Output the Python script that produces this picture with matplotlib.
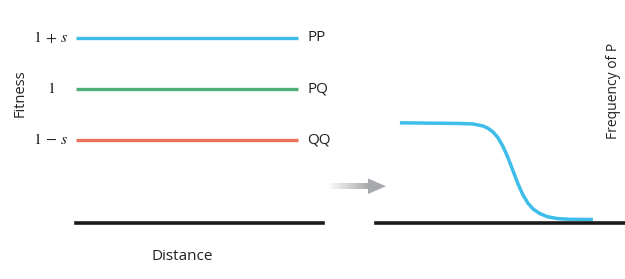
import numpy as np
import matplotlib
matplotlib.use("Agg")
import matplotlib.pyplot as plt
from matplotlib.patches import Polygon

plt.rcParams["font.family"] = ["Open Sans", "DejaVu Sans"]
plt.rcParams["mathtext.fontset"] = "stix"

# 左图：三种基因型的适合度
genotypes = ["PP", "PQ", "QQ"]
fitness = [1.5, 1.0, 0.5]                    # 1+s, 1, 1-s  (s = 0.5)
fitness_labels = [r"$1\,+\,s$", r"$1$", r"$1\,-\,s$"]
colors = ["#3dbde8", "#4daf78", "#e8735a"]
line_span = [0.0, 0.9]

# 右图：P 的频率随距离变化（读图得到的点）
dist = [0.096, 0.337, 0.390, 0.430, 0.450, 0.470, 0.490, 0.510, 0.530, 0.550,
        0.570, 0.590, 0.610, 0.631, 0.659, 0.687, 0.727, 0.779, 0.871]
freq_p = [1.0, 0.993, 0.988, 0.967, 0.943, 0.905, 0.845, 0.755, 0.640, 0.505,
          0.370, 0.255, 0.170, 0.108, 0.060, 0.030, 0.010, 0.002, 0.0]

W, H = 625, 279
fig = plt.figure(figsize=(W / 100, H / 100), dpi=100)
TXT = "#222222"


def px_axes(x0, x1, ytop, ybot):
    return fig.add_axes([x0 / W, 1 - ybot / H, (x1 - x0) / W, (ybot - ytop) / H])


def clean(ax):
    for s in ["top", "right", "left"]:
        ax.spines[s].set_visible(False)
    ax.spines["bottom"].set_linewidth(2.6)
    ax.spines["bottom"].set_color("#1a1a1a")
    ax.set_xticks([])
    ax.set_yticks([])
    ax.patch.set_alpha(0)


# ---------- 左图 ----------
ax1 = px_axes(76, 323, 20, 223)
clean(ax1)
ax1.set_xlim(0, 1)
ax1.set_ylim(-0.314, 1.676)
ytr = ax1.get_yaxis_transform()
for g, f, lab, c in zip(genotypes, fitness, fitness_labels, colors):
    ax1.plot(line_span, [f, f], color=c, lw=2.4, solid_capstyle="butt")
    ax1.text(0.937, f, g, transform=ytr, ha="left", va="center", fontsize=11, color=TXT)
    ax1.text(-0.101, f, lab, transform=ytr, ha="center", va="center", fontsize=11.5, color=TXT)
ax1.text(-0.227, 0.96, "Fitness", transform=ytr, rotation=90, ha="center", va="center",
         fontsize=10.5, color=TXT)
ax1.text(0.431, -0.163, "Distance", transform=ax1.transAxes, ha="center", va="center",
         fontsize=11, color=TXT)

# ---------- 右图 ----------
ax2 = px_axes(376, 625, 20, 223)
clean(ax2)
ax2.set_xlim(0, 1)
ax2.set_ylim(-0.036, 2.063)
ax2.plot(dist, freq_p, color=colors[0], lw=2.5, solid_joinstyle="round", solid_capstyle="butt")
ax2.text(0.952, 1.33, "Frequency of P", transform=ax2.get_yaxis_transform(), rotation=90,
         ha="center", va="center", fontsize=10, color=TXT)

# ---------- 中间的渐变箭头 ----------
ov = fig.add_axes([0, 0, 1, 1])
ov.axis("off")
grad = np.zeros((1, 64, 4))
grad[..., :3] = np.array([167, 169, 172]) / 255
grad[..., 3] = np.linspace(0, 1, 64)
ov.imshow(grad, extent=[327, 369, 189, 183.5], aspect="auto", interpolation="bilinear")
ov.add_patch(Polygon([(368, 178.5), (386, 186.2), (368, 194)], closed=True,
                     color="#a7a9ac", lw=0))
ov.set_xlim(0, W)
ov.set_ylim(H, 0)

fig.savefig("out.png", dpi=100)
